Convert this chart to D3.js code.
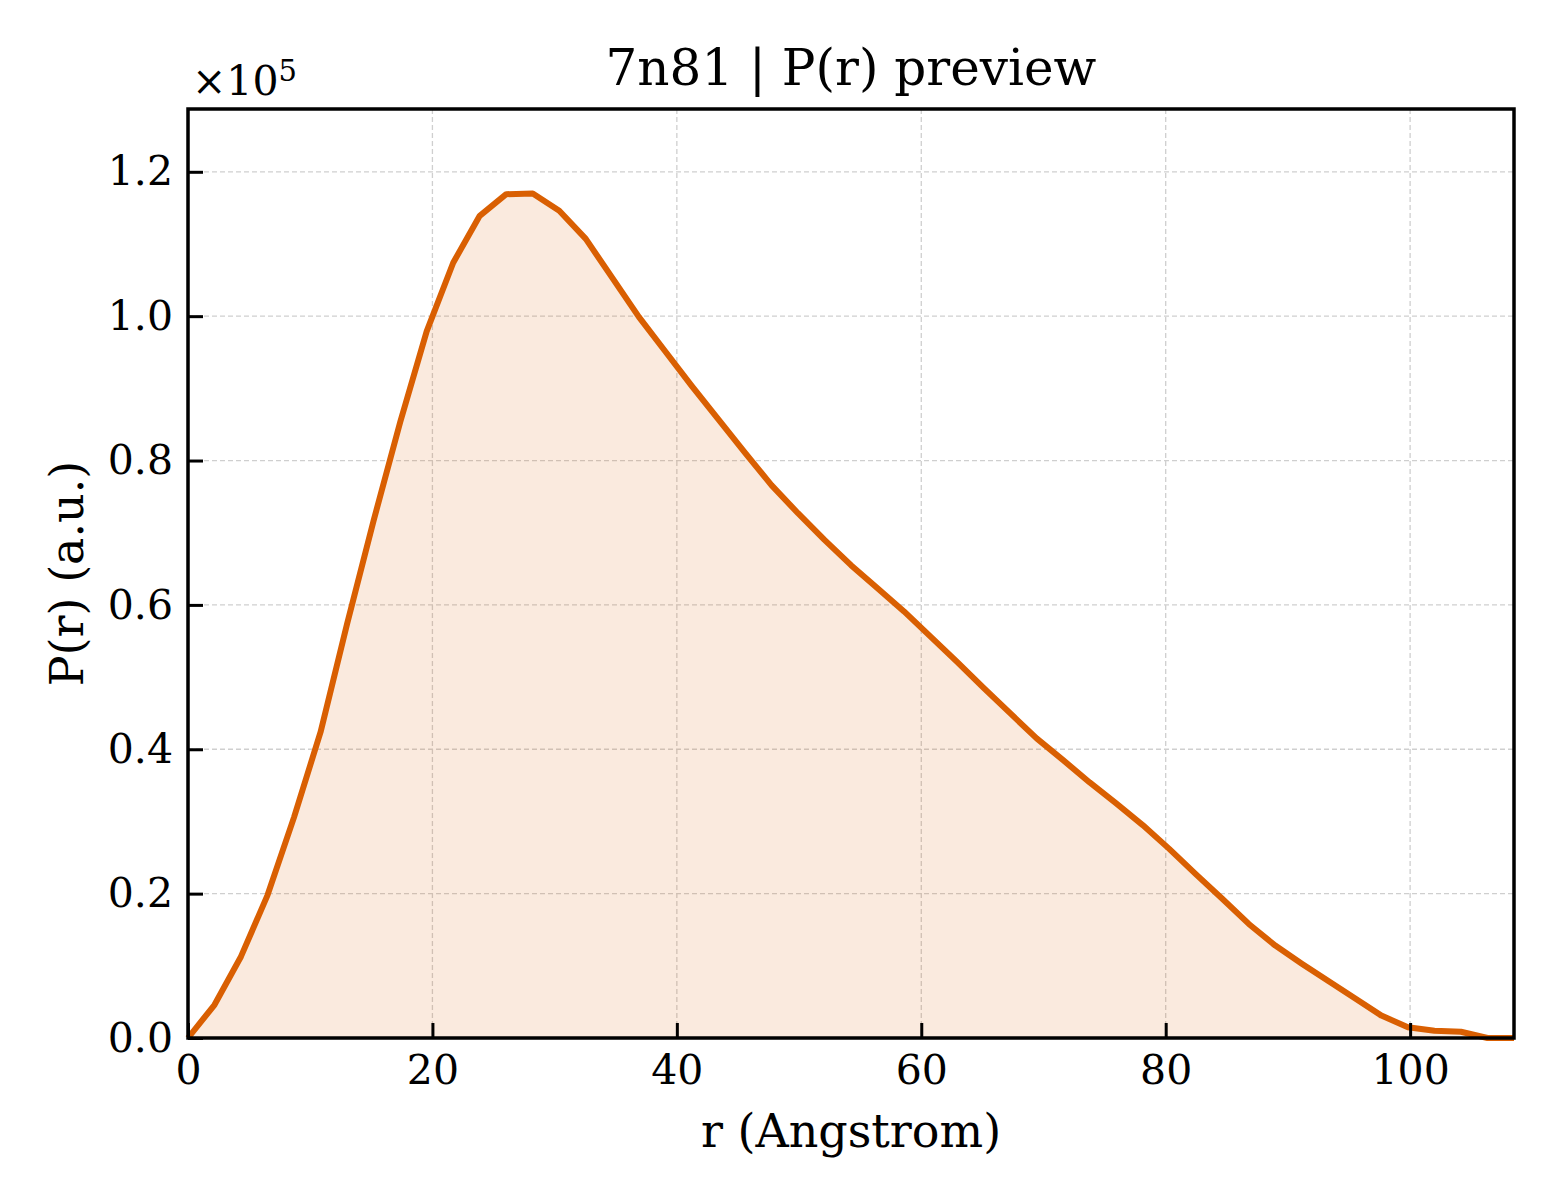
<!DOCTYPE html>
<html lang="en">
<head>
    <meta charset="UTF-8">
    <title>7n81 P(r)</title>
    <style>
        body { margin: 0; background: #fff; }
        text { font-family: "DejaVu Serif", serif; fill: #000; }
    </style>
</head>
<body>
    <div id="chart"></div>
    <script src="https://d3js.org/d3.v7.min.js"></script>
    <script>
        // r in Angstrom, P(r) in units of 1e5
        const rValues = [
            0, 2.17, 4.34, 6.51, 8.68, 10.85, 13.02, 15.19, 17.36, 19.53,
            21.7, 23.87, 26.04, 28.21, 30.38, 32.55, 34.72, 36.89, 39.06, 41.23,
            43.4, 45.57, 47.74, 49.91, 52.08, 54.25, 56.42, 58.59, 60.76, 62.93,
            65.1, 67.27, 69.44, 71.61, 73.78, 75.95, 78.12, 80.29, 82.46, 84.63,
            86.8, 88.97, 91.14, 93.31, 95.48, 97.65, 99.82, 101.99, 104.16, 106.33,
            108.5
        ];
        const prValues = [
            0, 0.046, 0.113, 0.198, 0.306, 0.424, 0.574, 0.717, 0.853, 0.979,
            1.074, 1.139, 1.169, 1.170, 1.146, 1.107, 1.053, 0.999, 0.951, 0.903,
            0.857, 0.811, 0.766, 0.727, 0.690, 0.655, 0.623, 0.591, 0.556, 0.521,
            0.485, 0.450, 0.415, 0.385, 0.354, 0.325, 0.295, 0.262, 0.227, 0.193,
            0.158, 0.128, 0.103, 0.079, 0.055, 0.031, 0.015, 0.010, 0.0087, 0,
            0
        ];
        const xTicks = [0, 20, 40, 60, 80, 100];
        const yTicks = [0, 0.2, 0.4, 0.6, 0.8, 1.0, 1.2];

        const W = 1560, H = 1200;
        const margin = { top: 109, right: 46, bottom: 162, left: 188 };
        const width = W - margin.left - margin.right;
        const height = H - margin.top - margin.bottom;
        const lineColor = "#d95f02";

        const data = rValues.map((r, i) => ({ r: r, p: prValues[i] }));

        const x = d3.scaleLinear().domain([0, 108.5]).range([0, width]);
        const y = d3.scaleLinear().domain([0, 1.287]).range([height, 0]);

        const svg = d3.select("#chart")
            .append("svg")
            .attr("width", W)
            .attr("height", H);

        const g = svg.append("g")
            .attr("transform", `translate(${margin.left},${margin.top})`);

        // grid
        g.append("g").selectAll("line").data(xTicks).join("line")
            .attr("x1", d => x(d)).attr("x2", d => x(d))
            .attr("y1", 0).attr("y2", height)
            .attr("stroke", "#cfcfcf").attr("stroke-width", 1.3)
            .attr("stroke-dasharray", "5,3");
        g.append("g").selectAll("line").data(yTicks).join("line")
            .attr("x1", 0).attr("x2", width)
            .attr("y1", d => y(d)).attr("y2", d => y(d))
            .attr("stroke", "#cfcfcf").attr("stroke-width", 1.3)
            .attr("stroke-dasharray", "5,3");

        // fill + line
        g.append("path")
            .datum(data)
            .attr("fill", lineColor)
            .attr("fill-opacity", 0.13)
            .attr("d", d3.area().x(d => x(d.r)).y0(y(0)).y1(d => y(d.p)));

        g.append("path")
            .datum(data)
            .attr("fill", "none")
            .attr("stroke", lineColor)
            .attr("stroke-width", 6)
            .attr("stroke-linejoin", "round")
            .attr("d", d3.line().x(d => x(d.r)).y(d => y(d.p)));

        // axes, ticks inside
        const xAxis = g.append("g")
            .attr("transform", `translate(0,${height})`)
            .call(d3.axisBottom(x).tickValues(xTicks).tickSizeInner(-15).tickSizeOuter(0).tickPadding(17));
        const yAxis = g.append("g")
            .call(d3.axisLeft(y).tickValues(yTicks).tickFormat(d3.format(".1f")).tickSizeInner(-15).tickSizeOuter(0).tickPadding(15));
        [xAxis, yAxis].forEach(a => {
            a.select(".domain").remove();
            a.selectAll(".tick line").attr("stroke", "#000").attr("stroke-width", 3);
            a.selectAll(".tick text")
                .style("font-family", "DejaVu Serif")
                .style("font-size", "41px");
        });

        // frame
        g.append("rect")
            .attr("width", width).attr("height", height)
            .attr("fill", "none").attr("stroke", "#000").attr("stroke-width", 3.5);

        // offset text
        const off = svg.append("text")
            .attr("x", margin.left + 4)
            .attr("y", 95)
            .style("font-size", "41px");
        off.append("tspan").text("×10");
        off.append("tspan").attr("dy", -14).style("font-size", "29px").text("5");

        // title and labels
        svg.append("text")
            .attr("x", margin.left + width / 2)
            .attr("y", 85)
            .attr("text-anchor", "middle")
            .style("font-size", "50px")
            .text("7n81 | P(r) preview");

        svg.append("text")
            .attr("x", margin.left + width / 2)
            .attr("y", 1147)
            .attr("text-anchor", "middle")
            .style("font-size", "46px")
            .text("r (Angstrom)");

        svg.append("text")
            .attr("transform", `translate(83,${margin.top + height / 2}) rotate(-90)`)
            .attr("text-anchor", "middle")
            .style("font-size", "46px")
            .text("P(r) (a.u.)");
    </script>
</body>
</html>
